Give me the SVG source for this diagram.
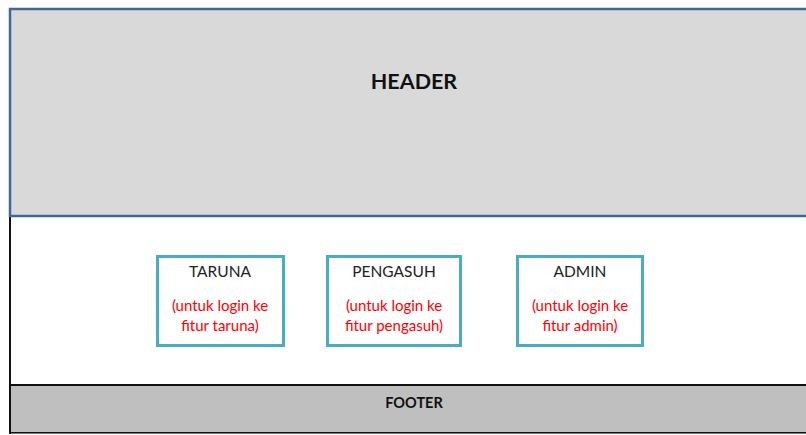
<svg xmlns="http://www.w3.org/2000/svg" width="806" height="435" viewBox="0 0 806 435">
<style>
.t{font-family:Lato,"Open Sans","Liberation Sans",sans-serif;text-anchor:middle}
.box{fill:#fff;stroke:#4bacc6;stroke-width:3}
.name{font-size:15.5px;fill:#222}
.sub{font-size:15px;fill:#ff0000}
</style>
<rect width="806" height="435" fill="#fff"/>
<g id="body">
<rect x="10" y="216" width="800" height="169" fill="#fff" stroke="#111" stroke-width="2"/>
</g>
<g id="header">
<rect x="10" y="9" width="800" height="207" fill="#d9d9d9" stroke="#41679a" stroke-width="2.5"/>
<text class="t" x="414" y="89" font-size="21.5" font-weight="bold" fill="#111">HEADER</text>
</g>
<g id="footer">
<rect x="10" y="385" width="800" height="48" fill="#bfbfbf" stroke="#111" stroke-width="2"/>
<line x1="11" y1="433.5" x2="806" y2="433.5" stroke="#777" stroke-width="1"/>
<text class="t" x="414" y="408" font-size="14.5" font-weight="bold" fill="#111">FOOTER</text>
</g>
<g id="taruna">
<rect class="box" x="157.5" y="256.5" width="126" height="89"/>
<text class="t name" x="220" y="277">TARUNA</text>
<text class="t sub" x="220" y="311">(untuk login ke</text>
<text class="t sub" x="220" y="331">fitur taruna)</text>
</g>
<g id="pengasuh">
<rect class="box" x="327.5" y="256.5" width="133" height="89"/>
<text class="t name" x="394" y="277">PENGASUH</text>
<text class="t sub" x="394" y="311">(untuk login ke</text>
<text class="t sub" x="394" y="331">fitur pengasuh)</text>
</g>
<g id="admin">
<rect class="box" x="517.5" y="256.5" width="125" height="89"/>
<text class="t name" x="580" y="277">ADMIN</text>
<text class="t sub" x="580" y="311">(untuk login ke</text>
<text class="t sub" x="580" y="331">fitur admin)</text>
</g>
<g id="connectors"></g>
</svg>
